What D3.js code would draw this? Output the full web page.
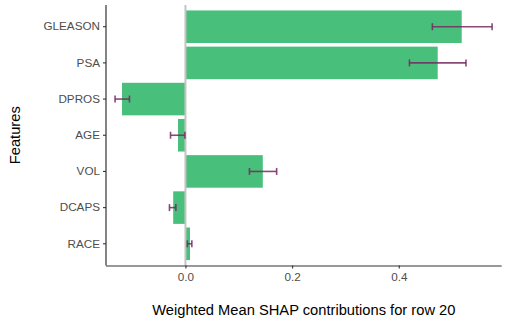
<!DOCTYPE html>
<html><head><meta charset="utf-8">
<script src="https://cdn.jsdelivr.net/npm/d3@7"></script>
<style>body{margin:0;background:#fff}svg{display:block}text{font-family:"Liberation Sans",Arial,sans-serif}</style>
</head><body><svg id="c" width="511" height="326"></svg>
<script>
const features = ["GLEASON","PSA","DPROS","AGE","VOL","DCAPS","RACE"];
const values   = [0.518, 0.473, -0.119, -0.014, 0.145, -0.023, 0.0085];
const errLow   = [0.463, 0.420, -0.132, -0.028, 0.120, -0.030, 0.0035];
const errHigh  = [0.575, 0.526, -0.105, -0.001, 0.171, -0.018, 0.012];
const xTicks   = [0.0, 0.2, 0.4];
const xTickLabels = ["0.0","0.2","0.4"];

const svg = d3.select("#c");
const L=106, R=501.7, T=5, B=265.5;
const x = d3.scaleLinear().domain([-0.149, 0.593]).range([L, R]);
const y = d3.scaleBand().domain(features).range([T, B]).paddingInner(0.1).paddingOuter(0.15);
const data = features.map((f,i)=>({f, v:values[i], lo:errLow[i], hi:errHigh[i]}));

svg.append("g").selectAll("rect").data(data).join("rect")
  .attr("x", d=>x(Math.min(0,d.v))).attr("width", d=>Math.abs(x(d.v)-x(0)))
  .attr("y", d=>y(d.f)).attr("height", y.bandwidth())
  .attr("fill","#48c07b");

svg.append("line").attr("x1",x(0)).attr("x2",x(0)).attr("y1",T).attr("y2",B)
  .attr("stroke","#c4c4c4").attr("stroke-width",2);

const eb = svg.append("g").attr("stroke","#762a60").attr("stroke-width",1.6).attr("stroke-opacity",0.85);
data.forEach(d=>{
  const cy = y(d.f)+y.bandwidth()/2;
  eb.append("line").attr("x1",x(d.lo)).attr("x2",x(d.hi)).attr("y1",cy).attr("y2",cy);
  eb.append("line").attr("x1",x(d.lo)).attr("x2",x(d.lo)).attr("y1",cy-3.5).attr("y2",cy+3.5);
  eb.append("line").attr("x1",x(d.hi)).attr("x2",x(d.hi)).attr("y1",cy-3.5).attr("y2",cy+3.5);
});

const xa = svg.append("g").attr("transform",`translate(0,${B})`)
  .call(d3.axisBottom(x).tickValues(xTicks).tickFormat((d,i)=>xTickLabels[i]).tickSize(3).tickSizeOuter(0));
const ya = svg.append("g").attr("transform",`translate(${L},0)`)
  .call(d3.axisLeft(y).tickSize(3).tickSizeOuter(0));
[xa,ya].forEach(a=>{
  a.select(".domain").attr("stroke","#333").attr("stroke-width",1.2).attr("d", null);
  a.selectAll(".tick line").attr("stroke","#333").attr("stroke-width",1.1);
  a.selectAll(".tick text").attr("fill","#4d4d4d").attr("font-size","11.7px");
});
xa.select(".domain").attr("d",`M${L},0.5H${R}`);
ya.select(".domain").attr("d",`M0,${T}V${B}`);
xa.selectAll(".tick text").attr("dy","0.71em").attr("y",7);
ya.selectAll(".tick text").attr("x",-6);

svg.append("text").attr("x",(L+R)/2).attr("y",315).attr("text-anchor","middle")
  .attr("font-size","14.7px").attr("fill","#000").text("Weighted Mean SHAP contributions for row 20");
svg.append("text").attr("transform",`translate(20,${(T+B)/2}) rotate(-90)`).attr("text-anchor","middle")
  .attr("font-size","14.7px").attr("fill","#000").text("Features");
</script></body></html>
